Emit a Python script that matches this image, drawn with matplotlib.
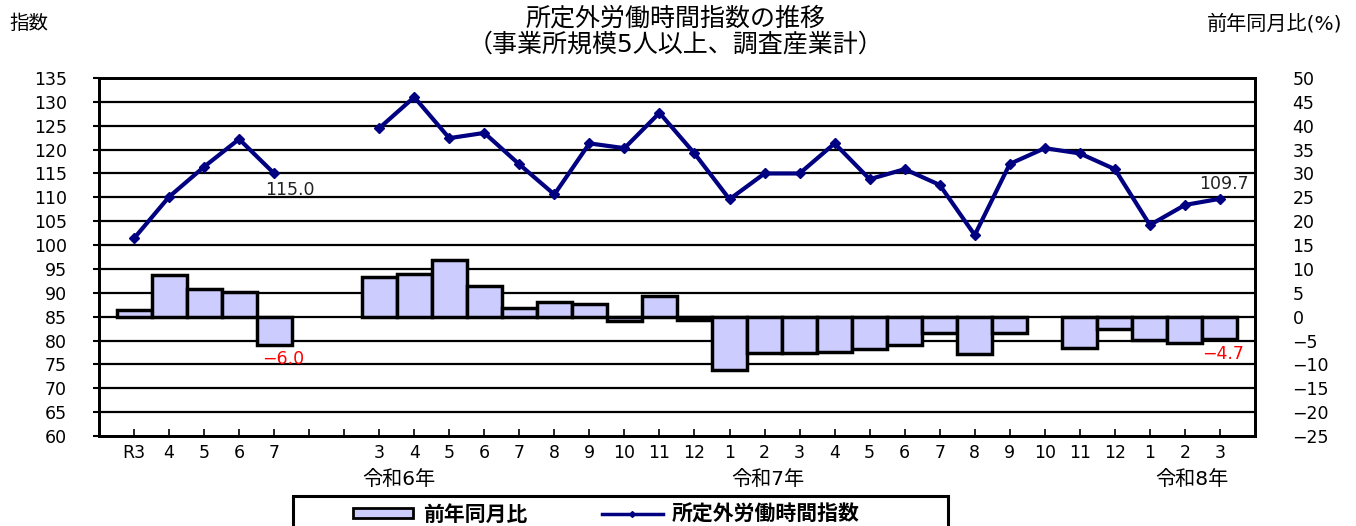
import numpy as np
import matplotlib.pyplot as plt
from matplotlib.patches import Patch, Rectangle
from matplotlib.lines import Line2D

plt.rcParams['font.family'] = ['DejaVu Sans', 'Noto Sans CJK JP']

# ============================================================
# Données
# ============================================================
mois = ['R3', '4', '5', '6', '7', '', '',
        '3', '4', '5', '6', '7', '8', '9', '10', '11', '12',
        '1', '2', '3', '4', '5', '6', '7', '8', '9', '10', '11', '12',
        '1', '2', '3']

indice = [101.4, 110.1, 116.4, 122.2, 115.0, np.nan, np.nan,
          124.5, 131.0, 122.4, 123.5, 116.9, 110.6, 121.3, 120.3, 127.7, 119.2,
          109.6, 115.0, 115.0, 121.3, 113.8, 115.9, 112.6, 102.1, 117.0, 120.3, 119.2, 115.9,
          104.2, 108.4, 109.7]

variation = [1.5, 8.8, 5.8, 5.2, -6.0, np.nan, np.nan,
             8.3, 8.9, 11.8, 6.5, 1.8, 3.1, 2.7, -0.9, 4.3, -0.6,
             -11.2, -7.7, -7.7, -7.5, -6.8, -6.0, -3.5, -7.8, -3.5, 0.0, -6.5, -2.6,
             -4.9, -5.5, -4.7]

annees = ['令和6年', '令和7年', '令和8年']
annees_x = [7.55, 18.1, 30.2]

titre = '所定外労働時間指数の推移\n（事業所規模5人以上、調査産業計）'
nom_barres = '前年同月比'
nom_ligne = '所定外労働時間指数'

bleu = '#000080'
violet = '#CCCCFF'

x = np.arange(len(mois))
indice = np.array(indice)
variation = np.array(variation)
hauteurs = np.where(variation == 0, np.nan, variation)  # 0.0 -> pas de barre visible

# ============================================================
# Figure
# ============================================================
fig = plt.figure(figsize=(13.56, 5.26), dpi=100)
ax = fig.add_axes([0.073, 0.1711, 0.8525, 0.6806])
ax2 = ax.twinx()

# axe gauche : indice
ax.set_ylim(60, 135)
ax.set_yticks(np.arange(60, 136, 5))
ax.set_xlim(-1, len(mois))
for yv in np.arange(65, 135, 5):
    ax.axhline(yv, color='black', lw=1.6, zorder=0)
ax.plot(x, indice, color=bleu, lw=3, marker='D', ms=5, zorder=3)

# axe droit : variation
ax2.set_ylim(-25, 50)
ax2.set_yticks(np.arange(-25, 51, 5))
ax2.bar(x, hauteurs, width=1.0, color=violet, edgecolor='black', lw=2.5, zorder=2)

# étiquettes de valeurs
ax.text(4 + 0.45, indice[4] - 1.6, f'{indice[4]:.1f}', ha='center', va='top',
        fontsize=12.5, color='#222222')
ax.text(31 + 0.1, indice[31] + 1.2, f'{indice[31]:.1f}', ha='center', va='bottom',
        fontsize=12.5, color='#222222')
ax2.text(4 + 0.25, variation[4] - 1.0, f'{variation[4]:.1f}'.replace('-', '\u2212'),
         ha='center', va='top', fontsize=12.5, color='red')
ax2.text(31 + 0.1, variation[31] - 1.2, f'{variation[31]:.1f}'.replace('-', '\u2212'),
         ha='center', va='top', fontsize=12.5, color='red')

# ticks
ax.set_xticks(x)
ax.set_xticklabels(mois, fontsize=12.5)
ax.tick_params(axis='x', direction='in', length=5, width=1.2, pad=6)
ax.tick_params(axis='y', direction='out', length=4, width=1.5, labelsize=12.5, pad=19)
ax2.tick_params(axis='y', length=0, labelsize=12.5, pad=27)
for t in ax2.get_yticklabels():
    t.set_horizontalalignment('left')

for a in (ax, ax2):
    for s in a.spines.values():
        s.set_linewidth(2)
        s.set_color('black')

for lab, xp in zip(annees, annees_x):
    ax.text(xp, -0.122, lab, transform=ax.get_xaxis_transform(), ha='center',
            va='center', fontsize=14.5)

# titres
fig.text(0.498, 0.988, titre, ha='center', va='top', fontsize=18, linespacing=1.12)
fig.text(0.007, 0.955, '指数', ha='left', va='center', fontsize=14)
fig.text(0.99, 0.955, '前年同月比(%)', ha='right', va='center', fontsize=14.5)

# légende (cadre tracé à part, coupé en bas comme l'original)
cadre = Rectangle((293 / 1356, -0.05), (948 - 293) / 1356, 1 - 496 / 526 + 0.05,
                  transform=fig.transFigure, fill=False, lw=2.2, ec='black')
fig.patches.append(cadre)
handles = [Patch(facecolor=violet, edgecolor='black', lw=2),
           Line2D([], [], color=bleu, lw=2.5, marker='D', ms=3)]
leg = fig.legend(handles, [nom_barres, nom_ligne], loc='center left',
                 bbox_to_anchor=(353 / 1356, 1 - 514 / 526), ncol=2, frameon=False,
                 prop={'family': ['Noto Sans CJK JP'], 'weight': 'bold', 'size': 15},
                 handlelength=2.9, handleheight=0.4, columnspacing=3.6,
                 borderpad=0, borderaxespad=0, handletextpad=0.45)

fig.savefig('out.png', dpi=100)
